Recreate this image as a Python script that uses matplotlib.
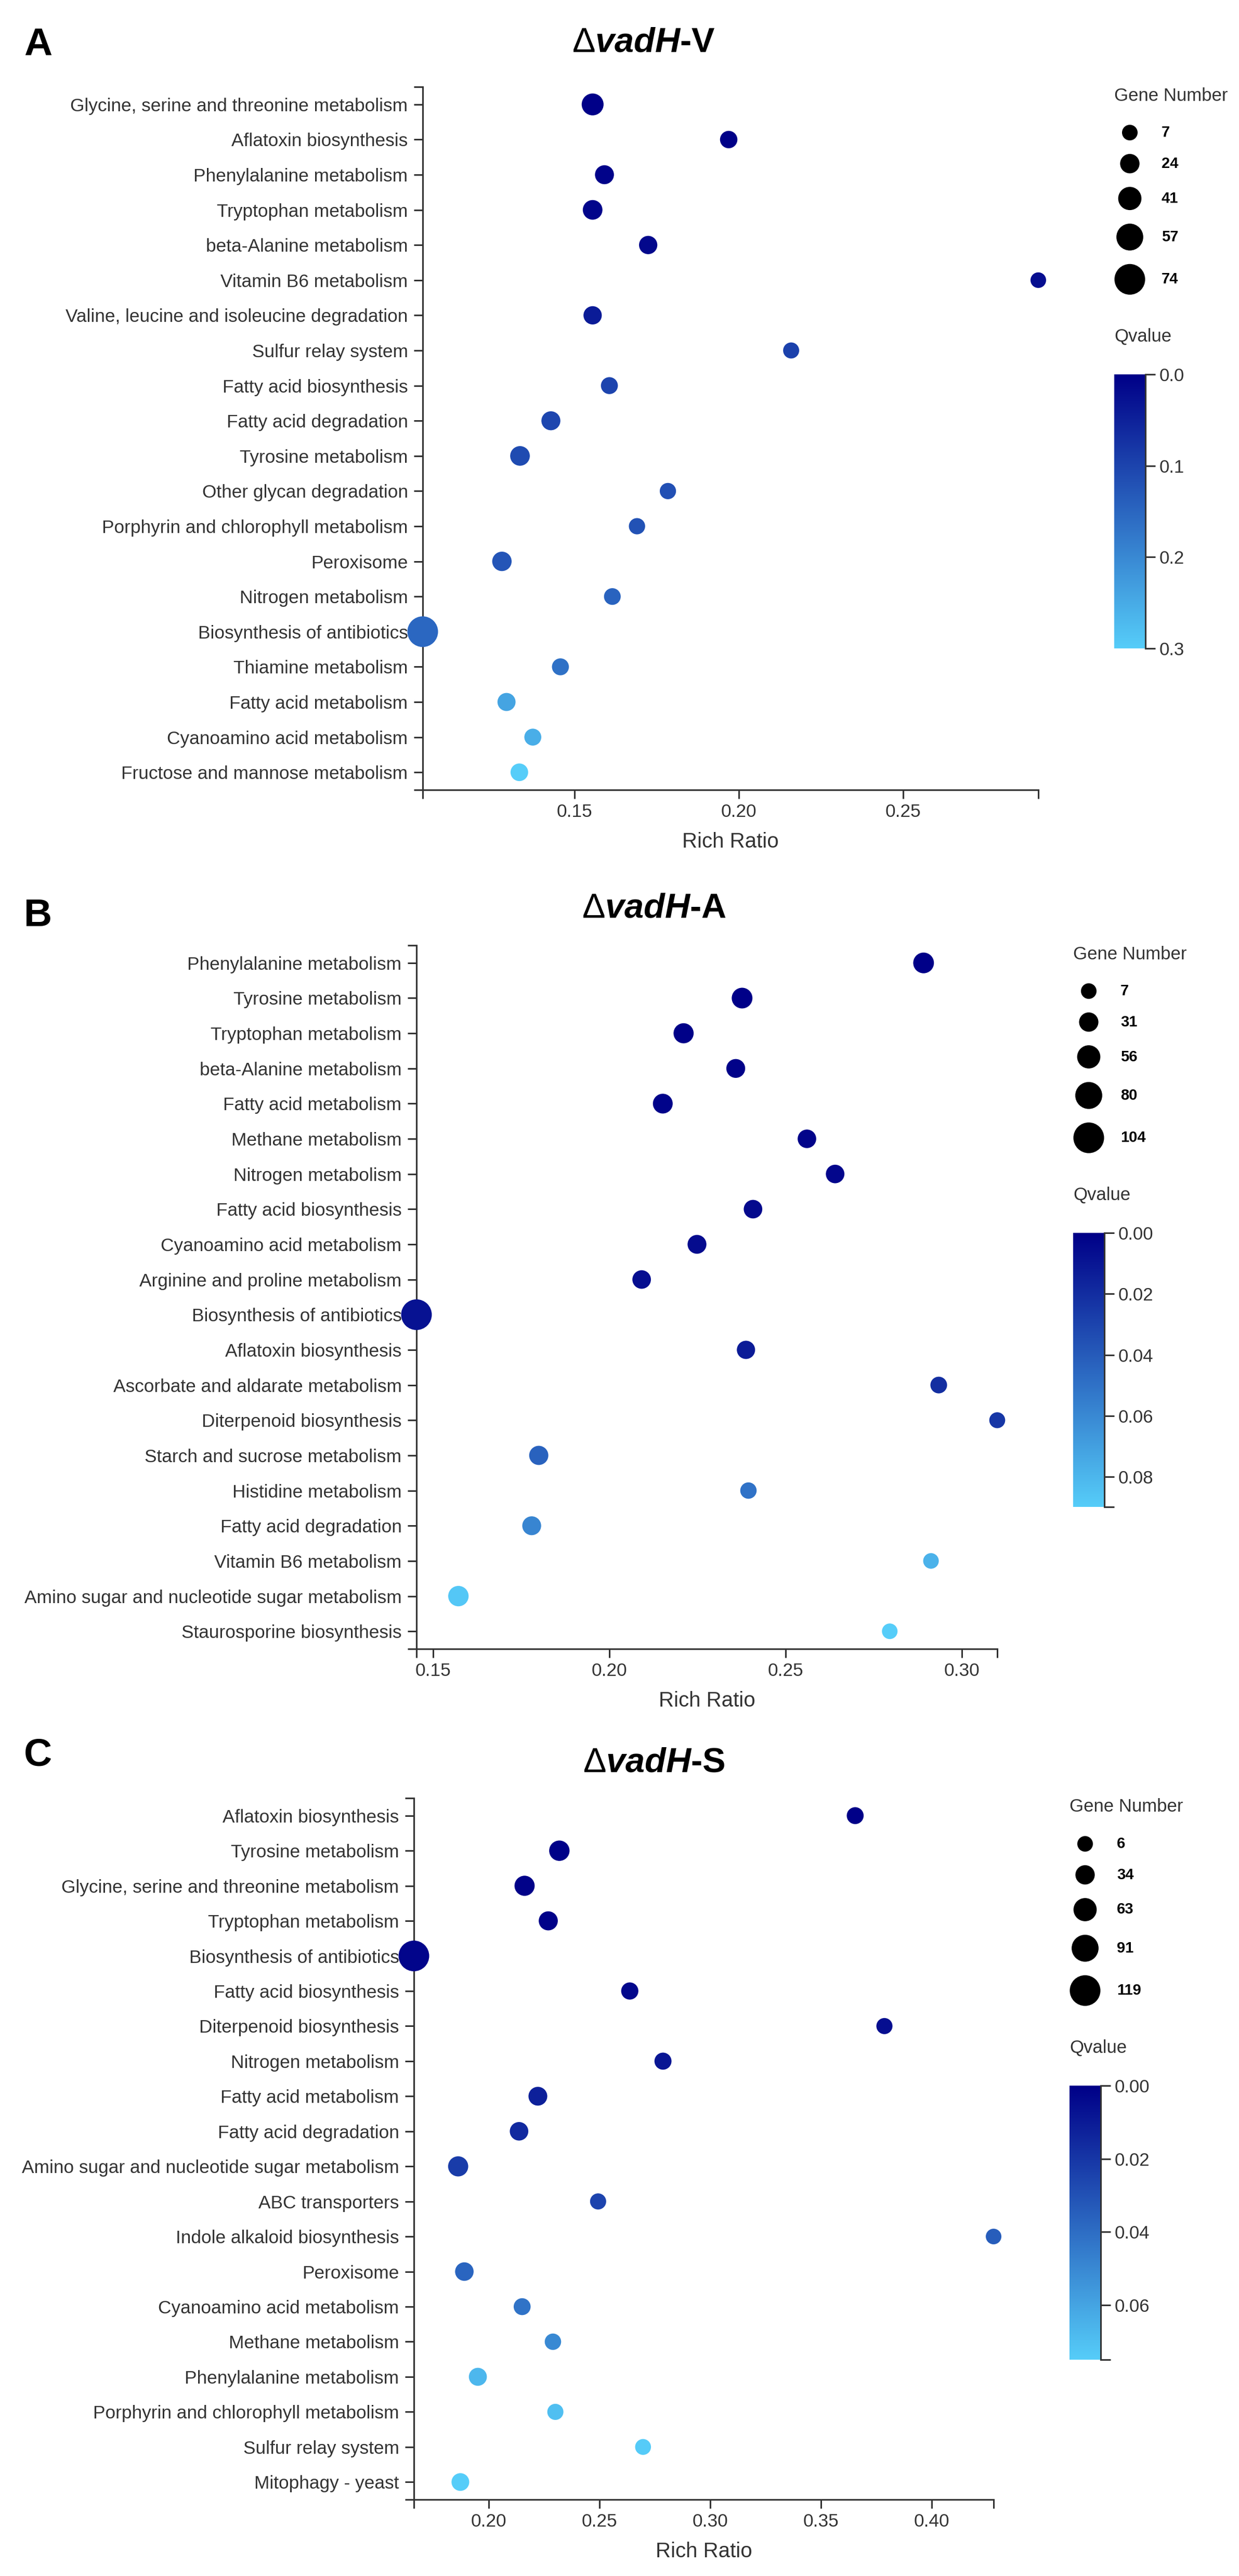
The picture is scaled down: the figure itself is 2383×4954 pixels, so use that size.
import numpy as np
import matplotlib
matplotlib.use('Agg')
import matplotlib.pyplot as plt
from matplotlib.colors import LinearSegmentedColormap
from matplotlib.ticker import MultipleLocator, FormatStrFormatter

plt.rcParams['font.family'] = ['Liberation Sans', 'DejaVu Sans']
plt.rcParams['mathtext.fontset'] = 'custom'
plt.rcParams['mathtext.rm'] = 'Liberation Sans'
plt.rcParams['mathtext.it'] = 'Liberation Sans:italic:bold'
plt.rcParams['mathtext.bf'] = 'Liberation Sans:bold'

# ---- panel A : vadH-V ----
pathsA = ['Glycine, serine and threonine metabolism', 'Aflatoxin biosynthesis',
          'Phenylalanine metabolism', 'Tryptophan metabolism', 'beta-Alanine metabolism',
          'Vitamin B6 metabolism', 'Valine, leucine and isoleucine degradation',
          'Sulfur relay system', 'Fatty acid biosynthesis', 'Fatty acid degradation',
          'Tyrosine metabolism', 'Other glycan degradation',
          'Porphyrin and chlorophyll metabolism', 'Peroxisome', 'Nitrogen metabolism',
          'Biosynthesis of antibiotics', 'Thiamine metabolism', 'Fatty acid metabolism',
          'Cyanoamino acid metabolism', 'Fructose and mannose metabolism']
ratioA = [0.1555, 0.1969, 0.1591, 0.1555, 0.1724, 0.2911, 0.1555, 0.2159, 0.1606, 0.1428,
          0.1334, 0.1784, 0.1690, 0.1279, 0.1615, 0.1038, 0.1457, 0.1293, 0.1373, 0.1332]
genesA = [35, 15, 22, 25, 19, 7, 19, 9, 13, 22, 25, 10, 10, 24, 12, 74, 13, 18, 13, 16]
qA = [0.0, 0.002, 0.005, 0.008, 0.012, 0.02, 0.04, 0.095, 0.10, 0.102,
      0.11, 0.118, 0.12, 0.125, 0.145, 0.15, 0.165, 0.24, 0.255, 0.30]

# ---- panel B : vadH-A ----
pathsB = ['Phenylalanine metabolism', 'Tyrosine metabolism', 'Tryptophan metabolism',
          'beta-Alanine metabolism', 'Fatty acid metabolism', 'Methane metabolism',
          'Nitrogen metabolism', 'Fatty acid biosynthesis', 'Cyanoamino acid metabolism',
          'Arginine and proline metabolism', 'Biosynthesis of antibiotics',
          'Aflatoxin biosynthesis', 'Ascorbate and aldarate metabolism',
          'Diterpenoid biosynthesis', 'Starch and sucrose metabolism', 'Histidine metabolism',
          'Fatty acid degradation', 'Vitamin B6 metabolism',
          'Amino sugar and nucleotide sugar metabolism', 'Staurosporine biosynthesis']
ratioB = [0.2892, 0.2377, 0.2211, 0.2359, 0.2152, 0.2561, 0.2641, 0.2408, 0.2249, 0.2092,
          0.1453, 0.2388, 0.2935, 0.3101, 0.1800, 0.2395, 0.1780, 0.2913, 0.1572, 0.2796]
genesB = [40, 40, 36, 28, 34, 26, 26, 26, 28, 26, 104, 24, 14, 9, 30, 12, 28, 7, 38, 7]
qB = [0.0, 0.0002, 0.0005, 0.001, 0.0015, 0.002, 0.003, 0.004, 0.005, 0.006,
      0.008, 0.012, 0.02, 0.024, 0.043, 0.05, 0.058, 0.078, 0.087, 0.0898]

# ---- panel C : vadH-S ----
pathsC = ['Aflatoxin biosynthesis', 'Tyrosine metabolism',
          'Glycine, serine and threonine metabolism', 'Tryptophan metabolism',
          'Biosynthesis of antibiotics', 'Fatty acid biosynthesis', 'Diterpenoid biosynthesis',
          'Nitrogen metabolism', 'Fatty acid metabolism', 'Fatty acid degradation',
          'Amino sugar and nucleotide sugar metabolism', 'ABC transporters',
          'Indole alkaloid biosynthesis', 'Peroxisome', 'Cyanoamino acid metabolism',
          'Methane metabolism', 'Phenylalanine metabolism',
          'Porphyrin and chlorophyll metabolism', 'Sulfur relay system', 'Mitophagy - yeast']
ratioC = [0.3654, 0.2318, 0.2161, 0.2268, 0.1661, 0.2636, 0.3786, 0.2786, 0.2221, 0.2136,
          0.1861, 0.2493, 0.4279, 0.1889, 0.2150, 0.2289, 0.1950, 0.2300, 0.2696, 0.1871]
genesC = [16, 42, 40, 32, 119, 18, 10, 17, 30, 28, 40, 10, 6, 28, 16, 12, 24, 10, 8, 22]
qC = [0.0, 0.0003, 0.0006, 0.001, 0.002, 0.003, 0.005, 0.008, 0.012, 0.015,
      0.022, 0.025, 0.034, 0.037, 0.042, 0.05, 0.067, 0.07, 0.074, 0.075]

W, H = 2383, 4954
fig = plt.figure(figsize=(W / 100, H / 100), dpi=100)
cmap = LinearSegmentedColormap.from_list('q', ['#000088', '#56CDF9'])
R0, R1 = 15, 29.5      # bubble radius range, px
DARK = '#333333'


def px_axes(l, t, r, b):
    return fig.add_axes([l / W, 1 - b / H, (r - l) / W, (b - t) / H])


def panel(letter, title, box, title_xy, letter_y, paths, ratio, genes, q, qstep, qfmt):
    l, t, r, b = box
    gmin, gmax = min(genes), max(genes)

    def area(g):
        rad = R0 + (np.asarray(g, float) - gmin) / (gmax - gmin) * (R1 - R0)
        return (2 * rad * 0.72) ** 2, rad

    ax = px_axes(l, t, r, b)
    n = len(paths)
    yy = np.arange(n)
    qmax = max(q)
    ax.scatter(ratio, yy, s=area(genes)[0], c=q, cmap=cmap, vmin=0, vmax=qmax,
               linewidths=0, zorder=3, clip_on=False)
    ax.set_xlim(min(ratio), max(ratio))
    ax.set_ylim(n - 0.5, -0.5)
    ax.set_yticks(yy)
    ax.set_yticklabels(paths)
    ax.set_yticks([-0.5, n - 0.5], minor=True)
    ax.xaxis.set_major_locator(MultipleLocator(0.05))
    ax.xaxis.set_major_formatter(FormatStrFormatter('%.2f'))
    ax.set_xticks([min(ratio), max(ratio)], minor=True)
    for s in ['top', 'right']:
        ax.spines[s].set_visible(False)
    for s in ['left', 'bottom']:
        ax.spines[s].set_linewidth(2.2)
        ax.spines[s].set_color(DARK)
    ax.tick_params(which='both', length=12.5, width=2.2, color=DARK,
                   labelsize=25.4, labelcolor=DARK)
    ax.tick_params(axis='y', which='both', pad=8)
    ax.tick_params(axis='x', which='both', pad=6.5)
    ax.set_xlabel('Rich Ratio', fontsize=29, color=DARK)
    ax.xaxis.set_label_coords(0.5, -100 / (b - t))
    ax.xaxis.label.set_va('center')

    fig.text(title_xy[0] / W, 1 - title_xy[1] / H, r'$\Delta\mathit{vadH}$' + title,
             fontsize=48, fontweight='bold', ha='center', va='baseline')
    fig.text(46 / W, 1 - letter_y / H, letter, fontsize=54, fontweight='bold',
             ha='left', va='baseline')

    # size legend
    x0 = r + 146
    lax = px_axes(x0, t, x0 + 250, t + 500)
    lax.set_xlim(0, 250)
    lax.set_ylim(500, 0)
    lax.axis('off')
    lax.text(0, 17, 'Gene Number', fontsize=25, color=DARK, va='center', ha='left')
    vals = np.floor(np.linspace(gmin, gmax, 5) + 0.5).astype(int)
    sz, rad = area(vals)
    ys = [88]
    for i in range(4):
        ys.append(ys[-1] + rad[i] + rad[i + 1] + 26)
    lax.scatter([30] * 5, ys, s=sz, color='black', linewidths=0, clip_on=False)
    for v, y in zip(vals, ys):
        lax.text(91, y, str(v), fontsize=21, fontweight='bold', va='center', ha='left')
    lax.text(0, 480, 'Qvalue', fontsize=25, color=DARK, va='center', ha='left')

    # colour bar
    cax = px_axes(x0, t + 553, x0 + 60, t + 553 + 527)
    grad = np.linspace(0, qmax, 256)[:, None]
    cax.imshow(grad, aspect='auto', cmap=cmap, vmin=0, vmax=qmax,
               extent=[0, 1, qmax, 0])
    cax.set_ylim(qmax, 0)
    cax.set_xticks([])
    cax.yaxis.tick_right()
    cax.set_yticks(np.arange(0, qmax + 1e-9, qstep))
    cax.yaxis.set_major_formatter(FormatStrFormatter(qfmt))
    cax.set_yticks([0, qmax], minor=True)
    for s in ['top', 'left', 'bottom']:
        cax.spines[s].set_visible(False)
    cax.spines['right'].set_linewidth(2.2)
    cax.spines['right'].set_color(DARK)
    cax.tick_params(which='both', length=14, width=2.2, color=DARK,
                    labelsize=25, labelcolor=DARK, pad=5)


panel('A', '-V', (813, 167, 1997, 1519), (1238, 99), 106,
      pathsA, ratioA, genesA, qA, 0.1, '%.1f')
panel('B', '-A', (801, 1818, 1918, 3171), (1258, 1765), 1781,
      pathsB, ratioB, genesB, qB, 0.02, '%.2f')
panel('C', '-S', (796, 3458, 1911, 4807), (1258, 3408), 3395,
      pathsC, ratioC, genesC, qC, 0.02, '%.2f')

fig.savefig('out.png', dpi=100)
